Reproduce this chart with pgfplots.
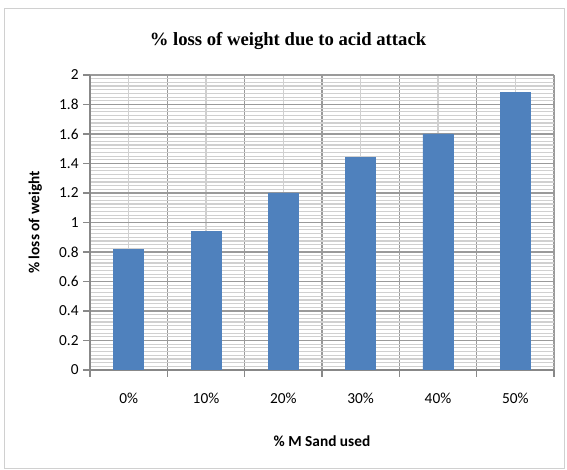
\documentclass[border=0pt]{standalone}
\usepackage{pgfplots}
\pgfplotsset{compat=1.18}
\usepackage{fontspec}
\setmainfont{Carlito}
\newfontfamily\titlefont{Liberation Serif}
\definecolor{barblue}{HTML}{4F81BD}
\definecolor{majgrid}{HTML}{9A9A9A}
\definecolor{mingrid}{HTML}{D0D0D0}
\definecolor{axisgray}{HTML}{888888}
\begin{document}
\begin{tikzpicture}
\useasboundingbox (0,0) rectangle (425.25pt,352.5pt);
\draw[color=mingrid] (3pt,1.5pt) rectangle (423pt,346.5pt);
\node[font=\titlefont\bfseries\fontsize{14}{16}\selectfont] at (216pt,322pt) {\% loss of weight due to acid attack};
\begin{axis}[
  at={(67.5pt,75pt)}, anchor=south west,
  width=348pt, height=221.25pt, scale only axis,
  xmin=-0.5, xmax=5.5, ymin=0, ymax=2,
  ytick={0,0.2,...,2},
  yticklabel style={/pgf/number format/fixed, /pgf/number format/precision=1},
  minor y tick num=7,
  xtick={-0.5,0.5,...,5.5}, xticklabels={},
  minor x tick num=1,
  extra x ticks={0,1,2,3,4,5},
  extra x tick labels={0\%,10\%,20\%,30\%,40\%,50\%},
  extra x tick style={grid=none, major tick length=0pt, xticklabel style={yshift=-14pt}},
  grid=both,
  major grid style={color=majgrid, line width=0.9pt},
  minor grid style={color=mingrid, line width=0.9pt},
  tick align=outside, major tick length=5pt, minor tick length=0pt,
  tick style={color=axisgray, line width=0.8pt},
  axis line style={color=axisgray, line width=0.8pt},
  axis x line*=bottom, axis y line*=left,
  tick label style={font=\fontsize{11.5}{13}\selectfont},
  /pgf/number format/assume math mode=true,
  ylabel={\bfseries \% loss of weight},
  ylabel style={font=\fontsize{11.5}{13}\selectfont, yshift=6pt},
  xlabel={\bfseries \% M Sand used},
  xlabel style={font=\fontsize{11.5}{13}\selectfont, yshift=-12pt},
]
\addplot[ybar, bar width=22.5pt, fill=barblue, draw=barblue] coordinates {
(0,0.82) (1,0.94) (2,1.2) (3,1.44) (4,1.6) (5,1.88)};
\end{axis}
\end{tikzpicture}
\end{document}
